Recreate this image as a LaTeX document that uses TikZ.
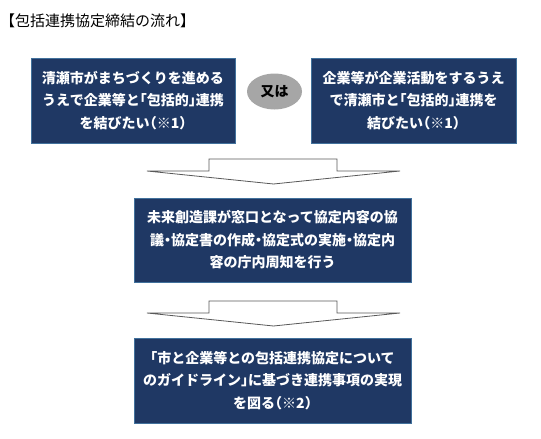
\documentclass[tikz,border=0pt]{standalone}
\usepackage{fontspec}
\setmainfont{Noto Sans CJK JP}[RawFeature=+halt]
\newfontfamily\titlefont{Noto Sans CJK JP}
\usetikzlibrary{shapes.geometric}
\definecolor{boxnavy}{RGB}{31,56,100}
\definecolor{boxedge}{RGB}{65,113,156}
\definecolor{orgray}{RGB}{166,166,166}
\definecolor{arrowgray}{RGB}{89,89,89}
\tikzset{
  flowbox/.style={draw=boxedge, line width=1pt, fill=boxnavy, text=white, align=center,
    font=\fontsize{14}{22.5}\selectfont\bfseries, inner sep=0pt},
  bigarrow/.style={draw=arrowgray, fill=white, line width=0.8pt, line join=miter},
}
\begin{document}
\begin{tikzpicture}[x=1pt,y=-1pt]
    \useasboundingbox (0,0) rectangle (541,439);
    % Title
    \node[anchor=west, inner sep=0pt, font=\titlefont\fontsize{15}{17}\selectfont] (title) at (0,21) {【包括連携協定締結の流れ】};
    % Two starting cases
    \node[flowbox, minimum width=204pt, minimum height=85pt, text width=200pt] (city) at (133,100.5)
        {清瀬市がまちづくりを進める\\うえで企業等と「包括的」連携\\を結びたい（※1）};
    \node[flowbox, minimum width=205pt, minimum height=85pt, text width=200pt] (firm) at (413.5,100.5)
        {企業等が企業活動をするうえ\\で清瀬市と「包括的」連携を\\結びたい（※1）};
    \node[ellipse, fill=orgray, minimum width=55pt, minimum height=36pt, inner sep=0pt,
          font=\fontsize{14}{16}\selectfont\bfseries] (or) at (274.5,91.5) {又は};
    % Arrow to the consultation step
    \draw[bigarrow] (209,159) -- (337,159) -- (337,171) -- (400,171) -- (273.5,184)
        -- (147,171) -- (209,171) -- cycle;
    \node[flowbox, minimum width=277pt, minimum height=84pt, text width=274pt] (office) at (272.5,240)
        {未来創造課が窓口となって協定内容の協\\議・協定書の作成・協定式の実施・協定内\\容の庁内周知を行う};
    % Arrow to the final step
    \draw[bigarrow] (209,301) -- (337,301) -- (337,313) -- (400,313) -- (273.5,326)
        -- (147,313) -- (209,313) -- cycle;
    \node[flowbox, minimum width=277pt, minimum height=85pt, text width=274pt] (guide) at (272.5,380.5)
        {「市と企業等との包括連携協定について\\のガイドライン」に基づき連携事項の実現\\を図る（※2）};
\end{tikzpicture}
\end{document}
